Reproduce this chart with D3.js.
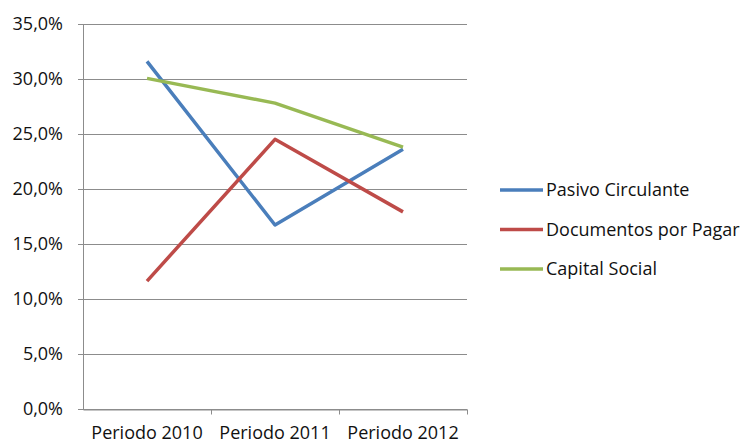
<!DOCTYPE html>
<html>
<head>
<meta charset="utf-8">
<script src="https://cdn.jsdelivr.net/npm/d3@7"></script>
<style>
  body { margin: 0; background: #fff; }
  svg text { font-family: "Open Sans", "Noto Sans", sans-serif; fill: #111; }
</style>
</head>
<body>
<svg id="grafico"></svg>
<script>
const periodos = ['Periodo 2010', 'Periodo 2011', 'Periodo 2012'];
const pasivoCirculante = [31.6, 16.7, 23.6];
const documentosPorPagar = [11.6, 24.5, 17.9];
const capitalSocial = [30.05, 27.8, 23.8];
const ticksY = [0, 5, 10, 15, 20, 25, 30, 35];

const series = [
  { nome: 'Pasivo Circulante', valores: pasivoCirculante, cor: '#4a7ebb' },
  { nome: 'Documentos por Pagar', valores: documentosPorPagar, cor: '#be4b48' },
  { nome: 'Capital Social', valores: capitalSocial, cor: '#98b954' }
];

const largura = 746, altura = 444;
const margem = { esquerda: 83, direita: 279, superior: 24, inferior: 35.5 };
const larguraPlotagem = largura - margem.esquerda - margem.direita;
const alturaPlotagem = altura - margem.superior - margem.inferior;
const tamanhoFonte = 18;

const svg = d3.select('#grafico').attr('width', largura).attr('height', altura);
const plotagem = svg.append('g')
    .attr('transform', `translate(${margem.esquerda}, ${margem.superior})`);

const x = d3.scaleBand().domain(periodos).range([0, larguraPlotagem]);
const y = d3.scaleLinear().domain([0, 35]).range([alturaPlotagem, 0]);

// linhas de grade
plotagem.append('g')
    .selectAll('line')
    .data(ticksY)
    .join('line')
    .attr('x1', -5)
    .attr('x2', larguraPlotagem)
    .attr('y1', d => Math.round(y(d)) + 0.5)
    .attr('y2', d => Math.round(y(d)) + 0.5)
    .attr('stroke', '#8c8c8c')
    .attr('stroke-width', 1);

// eixo Y
const eixoY = d3.axisLeft(y).tickValues(ticksY).tickSize(0).tickPadding(20)
    .tickFormat(d => d3.format('.1f')(d).replace('.', ',') + '%');
plotagem.append('g').call(eixoY)
    .call(g => g.select('.domain').attr('stroke', '#8c8c8c'))
    .selectAll('text').attr('font-size', tamanhoFonte);

// eixo X
const eixoX = d3.axisBottom(x).tickSize(0).tickPadding(17);
const gX = plotagem.append('g')
    .attr('transform', `translate(0, ${Math.round(alturaPlotagem) + 0.5})`)
    .call(eixoX);
gX.select('.domain').attr('stroke', '#8c8c8c');
gX.selectAll('text').attr('font-size', tamanhoFonte);
gX.selectAll('.marca')
    .data(periodos)
    .join('line')
    .attr('class', 'marca')
    .attr('x1', d => Math.round(x(d) + x.bandwidth()) + 0.5)
    .attr('x2', d => Math.round(x(d) + x.bandwidth()) + 0.5)
    .attr('y1', 0)
    .attr('y2', 5)
    .attr('stroke', '#8c8c8c');

// linhas das séries
const linha = d3.line()
    .x((d, i) => x(periodos[i]) + x.bandwidth() / 2)
    .y(d => y(d));

plotagem.selectAll('.serie')
    .data(series)
    .join('path')
    .attr('class', 'serie')
    .attr('d', d => linha(d.valores))
    .attr('fill', 'none')
    .attr('stroke', d => d.cor)
    .attr('stroke-width', 3.5)
    .attr('stroke-linejoin', 'round');

// legenda
const legenda = svg.append('g').attr('transform', 'translate(500, 190)');
const itens = legenda.selectAll('g')
    .data(series)
    .join('g')
    .attr('transform', (d, i) => `translate(0, ${i * 39.5})`);
itens.append('line')
    .attr('x1', 0).attr('x2', 43)
    .attr('stroke', d => d.cor)
    .attr('stroke-width', 3.5);
itens.append('text')
    .attr('x', 46)
    .attr('dy', '0.35em')
    .attr('font-size', tamanhoFonte)
    .text(d => d.nome);
</script>
</body>
</html>
